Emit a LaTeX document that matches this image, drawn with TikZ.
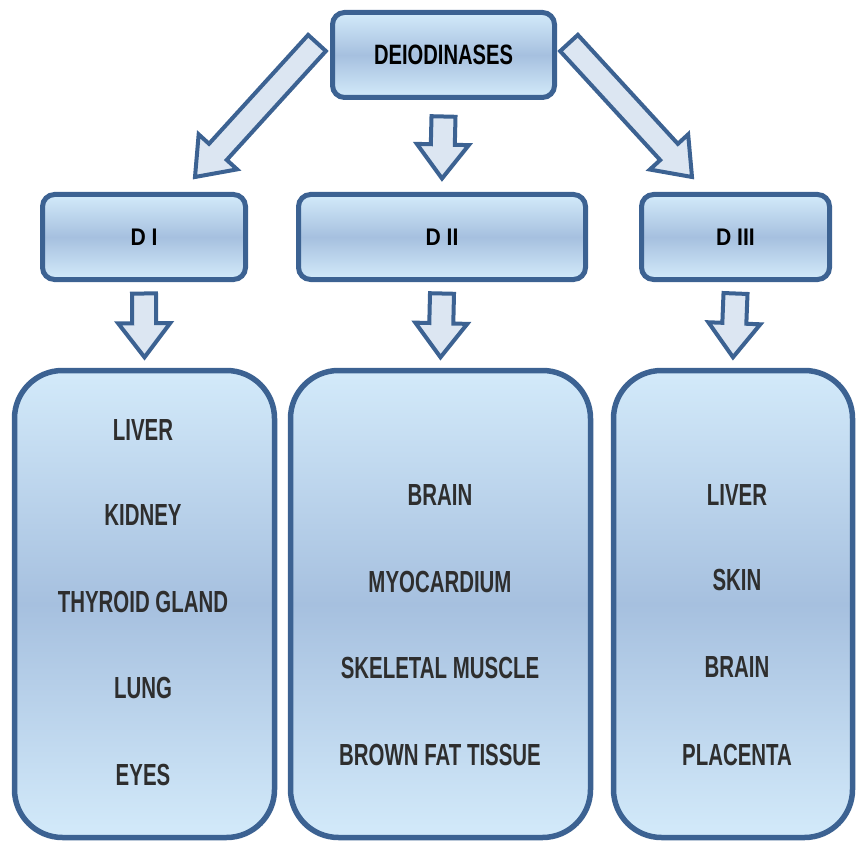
\documentclass[tikz,border=0pt]{standalone}
\usepackage{fontspec}
\setmainfont{Liberation Sans}[FakeStretch=0.72]
\newfontfamily\headfont{Liberation Sans}[FakeStretch=0.88]
\newfontfamily\organfont{Liberation Sans}[FakeStretch=0.67]
\usetikzlibrary{calc}

\definecolor{edgeblue}{HTML}{3C6292}
\definecolor{paleblue}{HTML}{D3EAFA}
\definecolor{midblue}{HTML}{A6C0DF}
\definecolor{arrowblue}{HTML}{DCE6F2}

\tikzset{
  fatarrow/.style={draw=edgeblue, line width=4pt, fill=arrowblue, line join=miter},
}

% block arrow from tail #1 to tip #2
\newcommand{\fatarrow}[2]{%
  \coordinate (headbase) at ($(#2)!34pt!(#1)$);
  \draw[fatarrow] ($(#1)!12pt!90:(#2)$) -- ($(headbase)!12pt!-90:(#1)$)
    -- ($(headbase)!26pt!-90:(#1)$) -- (#2) -- ($(headbase)!26pt!90:(#1)$)
    -- ($(headbase)!12pt!90:(#1)$) -- ($(#1)!12pt!-90:(#2)$) -- cycle;
}

\begin{document}
\begin{tikzpicture}[x=1pt, y=-1pt]
    \useasboundingbox (0,0) rectangle (856,842);

    \begin{scope}[every node/.style={rectangle, draw=edgeblue, line width=5pt, rounded corners=12pt,
        top color=paleblue, bottom color=paleblue, middle color=midblue,
        inner sep=0pt, minimum height=85pt, font=\headfont\bfseries\fontsize{24}{28}\selectfont}]
      \node[minimum width=222pt, font=\rmfamily\bfseries\fontsize{28}{32}\selectfont] (top) at (443.5,55) {DEIODINASES};
      \node[minimum width=203pt] (d1) at (144,237) {D I};
      \node[minimum width=287pt] (d2) at (442,237) {D II};
      \node[minimum width=188pt] (d3) at (735.5,237) {D III};
    \end{scope}

    \begin{scope}[every node/.style={rectangle, draw=edgeblue, line width=5.5pt, rounded corners=48pt,
        top color=paleblue, bottom color=paleblue, middle color=midblue, minimum height=467pt}]
      \node[minimum width=260pt] (o1) at (144.5,604) {};
      \node[minimum width=300pt] (o2) at (440.5,604) {};
      \node[minimum width=239pt] (o3) at (733,604) {};
    \end{scope}

    \begin{scope}[every node/.style={text=black!82, inner sep=0pt, font=\organfont\bfseries\fontsize{30.5}{34}\selectfont}]
      \node (liver1) at (143,430) {LIVER};
      \node (kidney) at (143,515) {KIDNEY};
      \node (thyroid) at (143,602) {THYROID GLAND};
      \node (lung) at (143,688) {LUNG};
      \node (eyes) at (143,775) {EYES};
      \node (brain2) at (440,495) {BRAIN};
      \node (myo) at (440,582) {MYOCARDIUM};
      \node (skeletal) at (440,668) {SKELETAL MUSCLE};
      \node (brownfat) at (440,755) {BROWN FAT TISSUE};
      \node (liver3) at (737,495) {LIVER};
      \node (skin) at (737,580) {SKIN};
      \node (brain3) at (737,667) {BRAIN};
      \node (placenta) at (737,755) {PLACENTA};
    \end{scope}

    \coordinate (tl) at ($(top.west)+(-13,-12)$);
    \coordinate (tc) at ($(top.south)+(0,16.5)$);
    \coordinate (tr) at ($(top.east)+(12,-12)$);
    \coordinate (in1) at ($(d1.north)+(51,-15)$);
    \coordinate (in2) at ($(d2.north)+(0,-13.5)$);
    \coordinate (in3) at ($(d3.north)+(-43.5,-15)$);
    \foreach \i in {1,2,3} {
      \coordinate (out\i) at ($(d\i.south)+(0,11.5)$);
      \coordinate (box\i) at ($(o\i.north)+(0,-10.5)$);
    }

    \fatarrow{tl}{in1}
    \fatarrow{tc}{in2}
    \fatarrow{tr}{in3}
    \foreach \i in {1,2,3} {\fatarrow{out\i}{box\i}}
\end{tikzpicture}
\end{document}
